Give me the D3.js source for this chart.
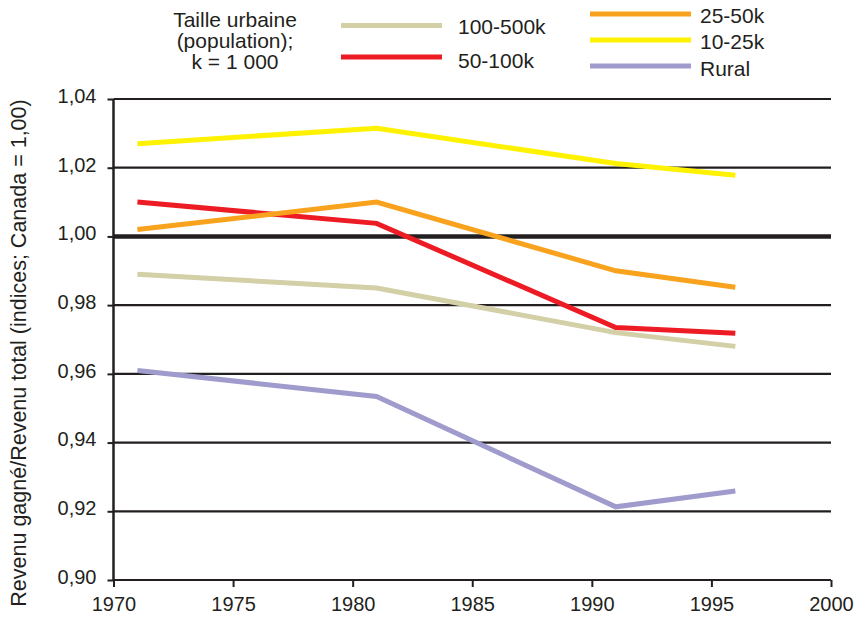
<!DOCTYPE html>
<html><head><meta charset="utf-8">
<script src="https://cdn.jsdelivr.net/npm/d3@7"></script>
<style>body{margin:0;background:#fff}svg{display:block;font-family:"Liberation Sans",Arial,sans-serif}</style>
</head><body><svg id="c" width="856" height="617"></svg>
<script>
const years = [1971, 1981, 1991, 1996];
const seriesNames = ["100-500k", "50-100k", "25-50k", "10-25k", "Rural"];
const s100_500k = [0.989, 0.985, 0.972, 0.968];
const s50_100k = [1.010, 1.0038, 0.9735, 0.9718];
const s25_50k = [1.002, 1.010, 0.990, 0.9852];
const s10_25k = [1.027, 1.0315, 1.0212, 1.0178];
const sRural = [0.961, 0.9534, 0.9213, 0.9259];
const colors = ["#d3cfa6", "#ed1c24", "#f8a21d", "#fff200", "#9f9bcc"];
const yTicks = [0.90, 0.92, 0.94, 0.96, 0.98, 1.00, 1.02, 1.04];
const xTicks = [1970, 1975, 1980, 1985, 1990, 1995, 2000];
const values = [s100_500k, s50_100k, s25_50k, s10_25k, sRural];

const svg = d3.select("#c");
const x = d3.scaleLinear().domain([1970, 2000]).range([113.5, 831]);
const y = d3.scaleLinear().domain([0.90, 1.04]).range([580, 99]);
const ink = "#231f20";
const fmt = d => d3.format(".2f")(d).replace(".", ",");

// grid
svg.append("g").selectAll("line").data(yTicks.filter(t => t > 0.9)).join("line")
  .attr("x1", x(1970)).attr("x2", x(2000))
  .attr("y1", d => y(d)).attr("y2", d => y(d))
  .attr("stroke", ink).attr("stroke-width", d => Math.abs(d - 1) < 1e-9 ? 4.5 : 2.2);

// y axis
const ya = svg.append("g").attr("transform", `translate(${x(1970)},0)`)
  .call(d3.axisLeft(y).tickValues(yTicks).tickFormat(fmt).tickSize(6).tickPadding(11));
ya.select(".domain").attr("stroke", ink).attr("stroke-width", 2.5).attr("d", `M-0,${y(1.04)}V${y(0.9)}`);
ya.selectAll(".tick line").attr("stroke", ink).attr("stroke-width", 2);
ya.selectAll(".tick text").attr("fill", "#231f20").attr("dy", "0.17em")
  .style("font-size", "20px").style("font-family", "Liberation Sans, Arial, sans-serif");

// x axis
const xa = svg.append("g").attr("transform", `translate(0,${y(0.9)})`)
  .call(d3.axisBottom(x).tickValues(xTicks).tickFormat(d3.format("d")).tickSize(7).tickPadding(10));
xa.select(".domain").attr("stroke", ink).attr("stroke-width", 2.2).attr("d", `M${x(1970)},0H${x(2000)}`);
xa.selectAll(".tick line").attr("stroke", ink).attr("stroke-width", 2);
xa.selectAll(".tick text").attr("fill", "#231f20")
  .style("font-size", "20px").style("font-family", "Liberation Sans, Arial, sans-serif");

// lines
const line = d3.line().x((d, i) => x(years[i])).y(d => y(d));
svg.append("g").selectAll("path").data(values).join("path")
  .attr("d", d => line(d)).attr("fill", "none")
  .attr("stroke", (d, i) => colors[i]).attr("stroke-width", 5).attr("stroke-linejoin", "miter");

// y title
svg.append("text").attr("transform", "translate(26,353) rotate(-90)")
  .attr("text-anchor", "middle").attr("fill", "#231f20").style("font-size", "21.5px")
  .text("Revenu gagné/Revenu total (indices; Canada = 1,00)");

// legend title
const lt = svg.append("text").attr("text-anchor", "middle").attr("fill", "#231f20").style("font-size", "21px");
["Taille urbaine", "(population);", "k = 1 000"].forEach((t, i) =>
  lt.append("tspan").attr("x", 235).attr("y", 26.5 + i * 21).text(t));

// legend items
const leg = [
  {i: 0, lx: 341, ly: 25.5, ty: 33.5},
  {i: 1, lx: 341, ly: 57, ty: 68.3},
  {i: 2, lx: 590, ly: 14, ty: 22.7},
  {i: 3, lx: 590, ly: 40, ty: 49.3},
  {i: 4, lx: 590, ly: 66, ty: 76}
];
const lg = svg.append("g").selectAll("g").data(leg).join("g");
lg.append("line").attr("x1", d => d.lx).attr("x2", d => d.lx + 101)
  .attr("y1", d => d.ly).attr("y2", d => d.ly)
  .attr("stroke", d => colors[d.i]).attr("stroke-width", 5);
lg.append("text").attr("x", d => d.lx + (d.i < 2 ? 117 : 110)).attr("y", d => d.ty)
  .attr("fill", "#231f20").style("font-size", "21px").text(d => seriesNames[d.i]);
</script></body></html>
